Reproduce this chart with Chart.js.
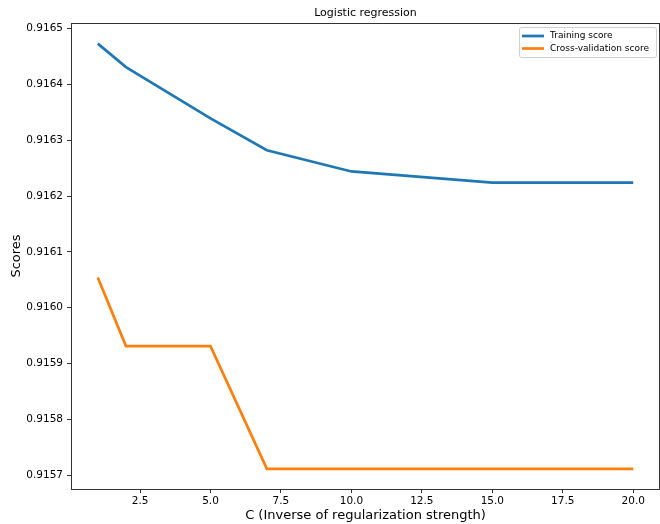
<!DOCTYPE html>
<html>
<head>
<meta charset="utf-8">
<script src="https://cdn.jsdelivr.net/npm/chart.js@4.4.1/dist/chart.umd.min.js"></script>
<style>
html,body{margin:0;padding:0;background:#fff;}
#wrap{width:660px;height:524px;position:relative;}
</style>
</head>
<body>
<div id="wrap"><canvas id="c" width="660" height="524"></canvas></div>
<script>
const cValues = [1, 2, 5, 7, 10, 15, 20];
const trainingScores = [0.916473, 0.916431, 0.916339, 0.916282, 0.916244, 0.916224, 0.916224];
const cvScores = [0.916054, 0.915931, 0.915931, 0.915711, 0.915711, 0.915711, 0.915711];
const xTicks = [2.5, 5.0, 7.5, 10.0, 12.5, 15.0, 17.5, 20.0];
const yTicks = [0.9157, 0.9158, 0.9159, 0.9160, 0.9161, 0.9162, 0.9163, 0.9164, 0.9165];
const seriesNames = ['Training score', 'Cross-validation score'];
const chartTitle = 'Logistic regression';
const xTitle = 'C (Inverse of regularization strength)';
const yTitle = 'Scores';

const FONT = "'DejaVu Sans', sans-serif";
const colors = ['#1f77b4', '#ff7f0e'];

function pts(xs, ys){ return xs.map((x,i)=>({x:x, y:ys[i]})); }

const decor = {
  id: 'decor',
  afterDraw(chart){
    const ctx = chart.ctx, a = chart.chartArea;
    ctx.save();
    // spines
    ctx.strokeStyle = '#333';
    ctx.lineWidth = 1;
    ctx.strokeRect(Math.round(a.left)+0.5, Math.round(a.top)+0.5, Math.round(a.right-a.left)-1, Math.round(a.bottom-a.top));
    // title
    ctx.fillStyle = '#000';
    ctx.font = '11px ' + FONT;
    ctx.textAlign = 'center';
    ctx.textBaseline = 'middle';
    ctx.fillText(chartTitle, (a.left+a.right)/2, 13);
    // axis titles
    ctx.font = '13px ' + FONT;
    ctx.fillText(xTitle, (a.left+a.right)/2, 516);
    ctx.save();
    ctx.translate(17, (a.top+a.bottom)/2);
    ctx.rotate(-Math.PI/2);
    ctx.fillText(yTitle, 0, 0);
    ctx.restore();
    // legend
    const bx = 519.5, by = 27.5, bw = 137, bh = 30;
    ctx.fillStyle = 'rgba(255,255,255,0.8)';
    ctx.strokeStyle = '#d0d0d0';
    ctx.lineWidth = 1;
    ctx.beginPath();
    if (ctx.roundRect) ctx.roundRect(bx, by, bw, bh, 2); else ctx.rect(bx, by, bw, bh);
    ctx.fill(); ctx.stroke();
    ctx.font = '9px ' + FONT;
    ctx.textAlign = 'left';
    ctx.textBaseline = 'middle';
    const rows = [36, 48.5];
    seriesNames.forEach((n,i)=>{
      ctx.strokeStyle = colors[i];
      ctx.lineWidth = 2.7;
      ctx.beginPath();
      ctx.moveTo(522, rows[i]); ctx.lineTo(544, rows[i]);
      ctx.stroke();
      ctx.fillStyle = '#000';
      ctx.fillText(n, 550, rows[i]);
    });
    ctx.restore();
  }
};

new Chart(document.getElementById('c'), {
  type: 'line',
  data: {
    datasets: [
      { label: seriesNames[0], data: pts(cValues, trainingScores), borderColor: colors[0], backgroundColor: colors[0], borderWidth: 2.7, pointRadius: 0, tension: 0, fill: false },
      { label: seriesNames[1], data: pts(cValues, cvScores), borderColor: colors[1], backgroundColor: colors[1], borderWidth: 2.7, pointRadius: 0, tension: 0, fill: false }
    ]
  },
  options: {
    responsive: false,
    animation: false,
    devicePixelRatio: 1,
    layout: { padding: { top: 23, right: 0, bottom: 0, left: 0 } },
    plugins: { legend: { display: false }, title: { display: false }, tooltip: { enabled: false } },
    scales: {
      x: {
        type: 'linear',
        min: 0.05, max: 20.95,
        afterBuildTicks(s){ s.ticks = xTicks.map(v=>({value:v})); },
        afterFit(s){ s.height = 35; },
        grid: { display: true, drawOnChartArea: false, drawTicks: true, tickLength: 4, color: '#333', tickColor: '#333' },
        border: { display: false },
        ticks: { color: '#000', font: { family: FONT, size: 10.5 }, padding: 2, maxRotation: 0, autoSkip: false, callback: v => Number(v).toFixed(1) }
      },
      y: {
        type: 'linear',
        min: 0.915675, max: 0.916510,
        afterBuildTicks(s){ s.ticks = yTicks.map(v=>({value:v})); },
        afterFit(s){ s.width = 71; },
        grid: { display: true, drawOnChartArea: false, drawTicks: true, tickLength: 4, color: '#333', tickColor: '#333' },
        border: { display: false },
        ticks: { color: '#000', font: { family: FONT, size: 10.5 }, padding: 4, autoSkip: false, callback: v => Number(v).toFixed(4) }
      }
    }
  },
  plugins: [decor]
});
</script>
</body>
</html>
